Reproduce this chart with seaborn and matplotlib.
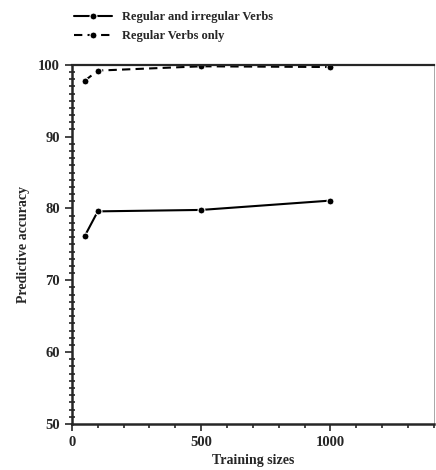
import pandas as pd
import seaborn as sns
import matplotlib.pyplot as plt
from matplotlib.ticker import MultipleLocator

# values
sizes = [50, 100, 500, 1000]
acc_all = [76.2, 79.6, 79.8, 81.1]
acc_regular = [97.8, 99.2, 99.8, 99.7]
series_names = ['Regular and irregular Verbs', 'Regular Verbs only']

df = pd.DataFrame({
    'size': sizes * 2,
    'acc': acc_all + acc_regular,
    'series': [series_names[0]] * len(sizes) + [series_names[1]] * len(sizes),
})

sns.set_style('ticks')
plt.rcParams['font.family'] = ['Liberation Serif', 'DejaVu Serif']

fig = plt.figure(figsize=(4.36, 4.70), dpi=100)
ax = fig.add_axes([0.165, 0.098, 0.83, 0.764])

sns.lineplot(data=df, x='size', y='acc', style='series', color='black',
             markers=['o', 'o'], dashes=['', (4, 2.5)], markersize=5,
             linewidth=1.5, ax=ax, legend=False)

ax.set_xlim(0, 1400)
ax.set_ylim(50, 100)
ax.xaxis.set_major_locator(MultipleLocator(500))
ax.xaxis.set_minor_locator(MultipleLocator(100))
ax.yaxis.set_major_locator(MultipleLocator(10))
ax.yaxis.set_minor_locator(MultipleLocator(1))
ax.set_xticks([0, 500, 1000])
ax.tick_params(axis='both', which='major', labelsize=10.5, width=1.2, length=5, direction='out')
ax.tick_params(axis='y', which='minor', length=4, width=1.2, direction='inout')
ax.tick_params(axis='x', which='minor', length=3, width=1.2, direction='out')
for lbl in ax.get_xticklabels() + ax.get_yticklabels():
    lbl.set_fontweight('bold')

for side in ['left', 'bottom']:
    ax.spines[side].set_linewidth(1.8)
ax.spines['top'].set_linewidth(1.6)
ax.spines['right'].set_linewidth(0.6)
ax.spines['right'].set_color('#999999')

ax.set_xlabel('Training sizes', fontsize=10, fontweight='bold', labelpad=4)
ax.set_ylabel('Predictive accuracy', fontsize=10, fontweight='bold', labelpad=6)

handles = ax.get_lines()[:2]
fig.legend(handles, series_names, loc='upper left', bbox_to_anchor=(0.145, 1.0),
           frameon=False, prop={'size': 9, 'weight': 'bold'},
           handlelength=3.0, handletextpad=0.8, labelspacing=0.55)

fig.savefig('out.png', dpi=100)
